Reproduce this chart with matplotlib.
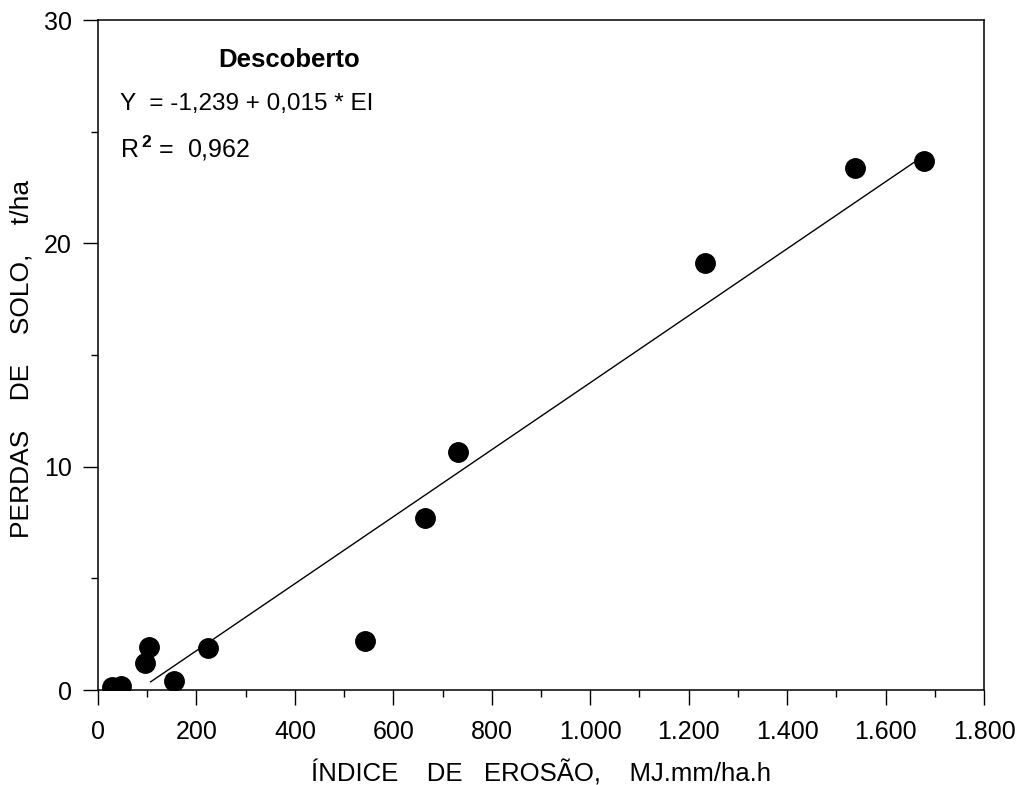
import matplotlib
matplotlib.use("Agg")
import matplotlib.pyplot as plt
import numpy as np
from matplotlib.ticker import MultipleLocator

plt.rcParams['font.family'] = ['Liberation Sans', 'DejaVu Sans']
plt.rcParams['mathtext.fontset'] = 'custom'
plt.rcParams['mathtext.rm'] = 'Liberation Sans'
plt.rcParams['mathtext.bf'] = 'Liberation Sans:bold'

# Data
ei = [28, 47, 95, 104, 155, 224, 542, 664, 732, 1234, 1538, 1678]
perdas = [0.15, 0.2, 1.22, 1.94, 0.42, 1.89, 2.21, 7.71, 10.67, 19.1, 23.36, 23.67]

intercept = -1.239
slope = 0.015
fit_range = [107, 1680]

xticks = [0, 200, 400, 600, 800, 1000, 1200, 1400, 1600, 1800]
xtick_labels = ['0', '200', '400', '600', '800', '1.000', '1.200', '1.400', '1.600', '1.800']
yticks = [0, 10, 20, 30]
ytick_labels = ['0', '10', '20', '30']

fig = plt.figure(figsize=(10.28, 7.85), dpi=100)
ax = fig.add_axes([0.0953, 0.121, 0.862, 0.8535])

ax.plot(ei, perdas, 'o', color='black', markersize=14, zorder=3)
xf = np.array(fit_range, dtype=float)
ax.plot(xf, intercept + slope * xf, color='black', linewidth=1.0)

ax.set_xlim(0, 1800)
ax.set_ylim(0, 30)
ax.set_xticks(xticks)
ax.set_xticklabels(xtick_labels)
ax.set_yticks(yticks)
ax.set_yticklabels(ytick_labels)
ax.xaxis.set_minor_locator(MultipleLocator(100))
ax.yaxis.set_minor_locator(MultipleLocator(5))
ax.tick_params(which='major', direction='out', length=10.5, width=1.0, labelsize=18)
ax.tick_params(axis='x', which='major', pad=11)
ax.tick_params(axis='y', which='major', pad=8.5)
ax.tick_params(which='minor', direction='out', length=5, width=1.0)
for s in ax.spines.values():
    s.set_linewidth(1.1)

ax.set_xlabel('ÍNDICE    DE   EROSÃO,    MJ.mm/ha.h', fontsize=18.5)
ax.xaxis.set_label_coords(0.5, -0.124)
ax.xaxis.label.set_va('center')
ax.set_ylabel('PERDAS    DE    SOLO,    t/ha', fontsize=19)
ax.yaxis.set_label_coords(-0.0858, 0.494)
ax.yaxis.label.set_va('center')

ax.text(0.136, 0.94, 'Descoberto', transform=ax.transAxes, fontsize=18.5,
        fontweight='bold', ha='left', va='center')
ax.text(0.025, 0.875, 'Y  = -1,239 + 0,015 * EI', transform=ax.transAxes,
        fontsize=17.5, ha='left', va='center')
ax.text(0.025, 0.808, r'R$^{\,\mathbf{2}}$ =  0,962', transform=ax.transAxes,
        fontsize=18, ha='left', va='center')

fig.savefig('out.png', dpi=100)
